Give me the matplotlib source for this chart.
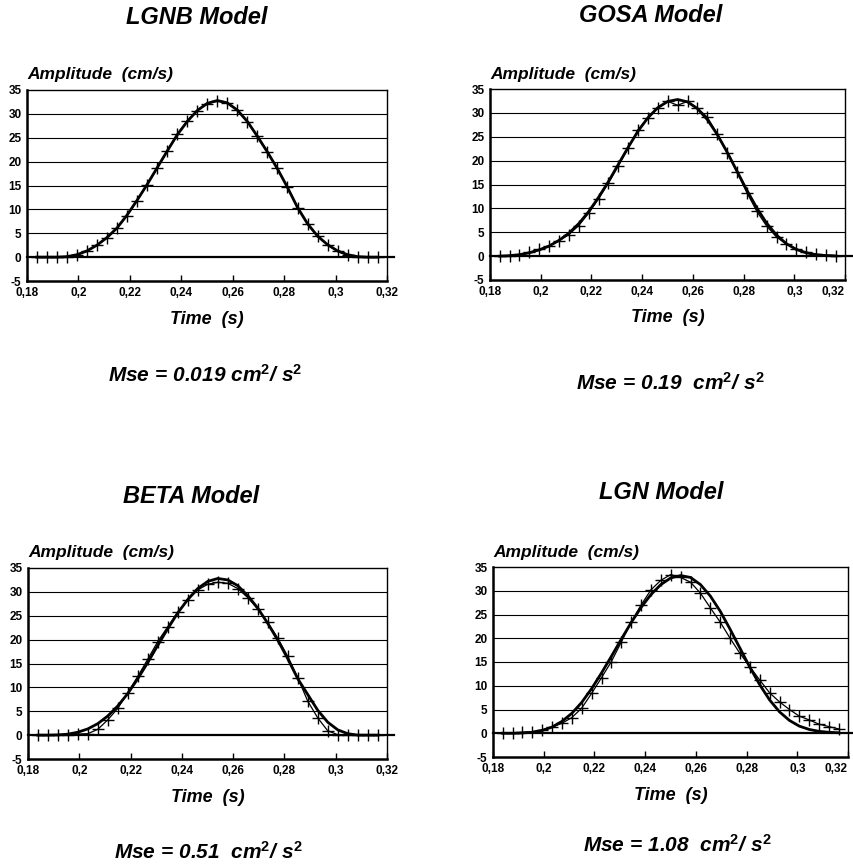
import matplotlib.pyplot as plt

# font tebal miring seperti hasil cetak aslinya
plt.rcParams['font.family'] = ['Liberation Sans', 'DejaVu Sans']
plt.rcParams['mathtext.fontset'] = 'custom'
plt.rcParams['mathtext.rm'] = 'Liberation Sans:bold'
plt.rcParams['mathtext.it'] = 'Liberation Sans:bold:italic'
plt.rcParams['mathtext.bf'] = 'Liberation Sans:bold'
plt.rcParams['axes.unicode_minus'] = False

# waktu sampel (s)
waktu = [0.1838, 0.1877, 0.1916, 0.1955, 0.1994, 0.2033, 0.2072, 0.2111, 0.2150,
         0.2189, 0.2228, 0.2267, 0.2306, 0.2345, 0.2384, 0.2423, 0.2462, 0.2501,
         0.2540, 0.2579, 0.2618, 0.2657, 0.2696, 0.2735, 0.2774, 0.2813, 0.2852,
         0.2891, 0.2930, 0.2969, 0.3008, 0.3047, 0.3086, 0.3125, 0.3164]

# kecepatan terukur (tanda +) dan model (garis tebal), cm/s
lgnb_data = [0, 0, 0, 0.1, 0.5, 1.3, 2.5, 4.1, 6.1, 8.7, 11.8, 15.1, 18.6, 22.2, 25.7,
             28.5, 30.7, 32.1, 32.7, 32.3, 30.8, 28.4, 25.4, 22.1, 18.6, 14.6, 10.3,
             6.9, 4.4, 2.6, 1.2, 0.4, 0.1, 0, 0]
lgnb_model = [0, 0, 0, 0.1, 0.5, 1.3, 2.5, 4.1, 6.1, 8.8, 11.9, 15.2, 18.7, 22.2, 25.6,
              28.4, 30.7, 32.2, 32.8, 32.3, 30.8, 28.4, 25.3, 22.0, 18.5, 14.6, 10.4,
              7.0, 4.4, 2.6, 1.3, 0.5, 0.1, 0, 0]

gosa_data = [0, 0.05, 0.3, 0.8, 1.4, 2.2, 3.2, 4.5, 6.4, 9.0, 12.0, 15.3, 18.9, 22.6,
             26.5, 28.9, 31.1, 32.4, 31.6, 32.4, 31.0, 29.1, 25.6, 21.7, 17.6, 13.3,
             9.4, 6.3, 4.0, 2.5, 1.5, 0.8, 0.35, 0.2, 0.1]
gosa_model = [0, 0.1, 0.3, 0.7, 1.3, 2.1, 3.3, 4.8, 6.8, 9.3, 12.3, 15.6, 19.2, 22.8,
              26.2, 29.0, 31.1, 32.4, 32.8, 32.3, 30.9, 28.6, 25.5, 21.8, 17.8, 13.8,
              10.1, 6.9, 4.4, 2.6, 1.4, 0.7, 0.3, 0.1, 0.05]

beta_data = [0, 0, 0, 0.1, 0.2, 0.3, 1.2, 3.2, 5.6, 8.9, 12.3, 15.9, 19.6, 22.7, 25.7,
             28.3, 30.4, 31.6, 32.0, 31.8, 30.7, 28.8, 26.4, 23.6, 20.3, 16.5, 12.0,
             7.1, 3.6, 0.9, 0.1, 0, 0, 0, 0]
beta_model = [0, 0, 0.05, 0.2, 0.6, 1.3, 2.4, 4.0, 6.1, 8.7, 11.8, 15.2, 18.8, 22.3,
              25.6, 28.4, 30.7, 32.2, 32.8, 32.5, 31.3, 29.2, 26.6, 23.4, 19.9, 16.0,
              11.8, 8.5, 5.2, 2.7, 1.1, 0.3, 0, 0, 0]

lgn_data = [0, 0, 0.2, 0.35, 0.7, 1.3, 2.1, 3.3, 5.3, 8.4, 11.7, 15.1, 19.2, 23.4,
            27.0, 30.2, 32.2, 33.4, 32.8, 31.8, 29.5, 26.4, 23.4, 20.0, 16.8, 14.0,
            11.2, 8.5, 6.6, 5.0, 3.6, 2.8, 1.9, 1.4, 0.9]
lgn_model = [0, 0, 0.05, 0.2, 0.6, 1.3, 2.5, 4.2, 6.5, 9.4, 12.7, 16.2, 19.8, 23.3,
             26.5, 29.2, 31.3, 32.7, 33.2, 32.8, 31.3, 28.9, 25.7, 21.9, 17.9, 13.9,
             10.2, 7.0, 4.5, 2.7, 1.5, 0.8, 0.4, 0.2, 0.1]

judul = ['LGNB Model', 'GOSA Model', 'BETA Model', 'LGN Model']
mse = ['Mse = 0.019 cm$^2$/ s$^2$', 'Mse = 0.19  cm$^2$/ s$^2$',
       'Mse = 0.51  cm$^2$/ s$^2$', 'Mse = 1.08  cm$^2$/ s$^2$']
semua_data = [lgnb_data, gosa_data, beta_data, lgn_data]
semua_model = [lgnb_model, gosa_model, beta_model, lgn_model]

xticks = [0.18, 0.2, 0.22, 0.24, 0.26, 0.28, 0.3, 0.32]
xlabels = ['0,18', '0,2', '0,22', '0,24', '0,26', '0,28', '0,3', '0,32']
yticks = [-5, 0, 5, 10, 15, 20, 25, 30, 35]

W, H = 854, 865
# kotak sumbu dalam piksel: kiri, kanan, atas, bawah
kotak = [(27, 387, 90, 281), (490, 845, 89, 280), (28, 387, 568, 759), (493, 848, 567, 757)]
pos_judul = [(197, 18), (651, 15), (191, 496), (661, 492)]
pos_mse = [(205, 375), (670, 383), (208, 852), (677, 845)]

fig = plt.figure(figsize=(W / 100, H / 100), dpi=100)

for i in range(4):
    l, r, t, b = kotak[i]
    ax = fig.add_axes([l / W, 1 - b / H, (r - l) / W, (b - t) / H])
    ax.set_xlim(0.18, 0.32)
    ax.set_ylim(-5, 35)

    # garis grid horizontal
    for yv in yticks[2:-1]:
        ax.axhline(yv, color='black', lw=0.8, zorder=1)
    ax.axhline(0, xmin=0, xmax=1.02, color='black', lw=1.6, zorder=1, clip_on=False)

    ax.plot(waktu, semua_model[i], color='black', lw=2.0, zorder=3)
    ax.plot(waktu, semua_data[i], color='black', lw=0.9, marker='+',
            markersize=8, markeredgewidth=1.0, zorder=4)

    ax.set_xticks(xticks)
    ax.set_xticklabels(xlabels)
    ax.set_yticks(yticks)
    ax.tick_params(axis='x', direction='in', length=4, width=1, pad=4, labelsize=8.5)
    ax.tick_params(axis='y', length=0, pad=4, labelsize=8.5)
    for lab in ax.get_xticklabels() + ax.get_yticklabels():
        lab.set_fontweight('bold')
    # label terakhir di kolom kanan digeser agar tidak terpotong tepi gambar
    if i % 2 == 1:
        ax.get_xticklabels()[-1].set_horizontalalignment('right')
    for s in ['left', 'bottom']:
        ax.spines[s].set_linewidth(1.8)
    for s in ['top', 'right']:
        ax.spines[s].set_linewidth(1.0)

    ax.text(0.0, 1 + 15 / (b - t), 'Amplitude  (cm/s)', transform=ax.transAxes,
            ha='left', va='center', fontsize=12.5, fontweight='bold', style='italic')
    ax.text(0.5, -38 / (b - t), 'Time  (s)', transform=ax.transAxes,
            ha='center', va='center', fontsize=13, fontweight='bold', style='italic')

    fig.text(pos_judul[i][0] / W, 1 - pos_judul[i][1] / H, judul[i], ha='center',
             va='center', fontsize=17, fontweight='bold', style='italic')
    fig.text(pos_mse[i][0] / W, 1 - pos_mse[i][1] / H, mse[i], ha='center',
             va='center', fontsize=15, fontweight='bold', style='italic')

fig.savefig('out.png', dpi=100)
